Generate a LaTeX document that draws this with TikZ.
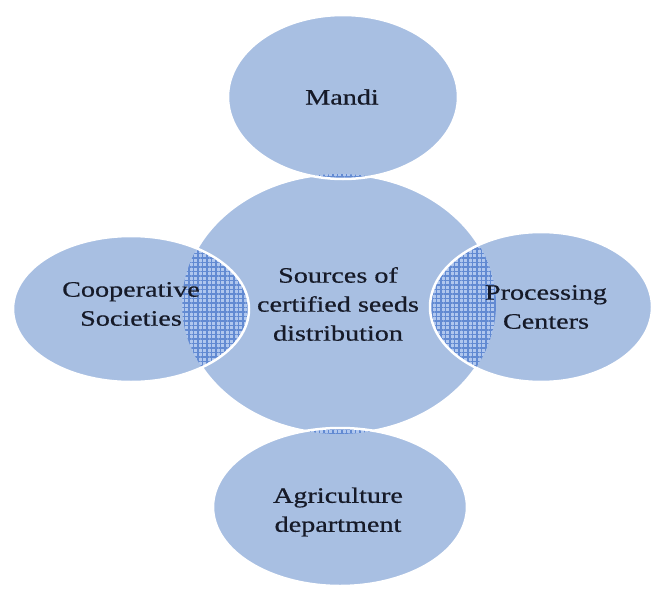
\documentclass[tikz,border=0pt]{standalone}
\usepackage{fontspec}
\setmainfont{Liberation Serif}[FakeStretch=1.28, FakeBold=0.6]
\usetikzlibrary{patterns.meta}
\definecolor{bubblefill}{RGB}{168,191,226}
\definecolor{lensfill}{RGB}{176,199,238}
\definecolor{lensline}{RGB}{98,138,210}
\definecolor{labelink}{RGB}{22,26,40}

\begin{document}
\begin{tikzpicture}[x=1bp, y=-1bp, font=\fontsize{22bp}{29bp}\selectfont,
  bubble/.style={fill=bubblefill},
  rim/.style={draw=white, line width=2.5bp},
  lens/.style={fill=lensfill, postaction={pattern={Hatch[distance=4.5bp, line width=1.6bp]}, pattern color=lensline}},
  tag/.style={text=labelink, align=center, inner sep=0pt}]

\useasboundingbox (0,0) rectangle (653,591);
\clip (0,0) rectangle (653,591);

\coordinate (hub) at (339,304);
\coordinate (mandi) at (343,97);
\coordinate (coop) at (131,309);
\coordinate (proc) at (541,307);
\coordinate (agri) at (340,507);

\fill[bubble] (hub) ellipse [x radius=157, y radius=130];
\draw[rim] (hub) ellipse [x radius=157, y radius=130];
\foreach \c/\rx/\ry in {mandi/115/82, coop/118/73, proc/111/75, agri/127/79}
	\fill[bubble] (\c) ellipse [x radius=\rx, y radius=\ry];

\begin{scope}
\clip (hub) ellipse [x radius=157, y radius=130];
\foreach \c/\rx/\ry in {mandi/115/82, coop/118/73, proc/111/75, agri/127/79}
	\path[lens] (\c) ellipse [x radius=\rx, y radius=\ry];
\end{scope}
\foreach \c/\rx/\ry in {mandi/115/82, coop/118/73, proc/111/75, agri/127/79}
	\draw[rim] (\c) ellipse [x radius=\rx, y radius=\ry];

\node[tag] (t-hub) at (338,304) {Sources of\\certified seeds\\distribution};
\node[tag] (t-mandi) at (342,97) {Mandi};
\node[tag] (t-coop) at (131,304) {Cooperative\\Societies};
\node[tag] (t-proc) at (546,307) {Processing\\Centers};
\node[tag] (t-agri) at (338,512) {Agriculture\\department};

\end{tikzpicture}
\end{document}
